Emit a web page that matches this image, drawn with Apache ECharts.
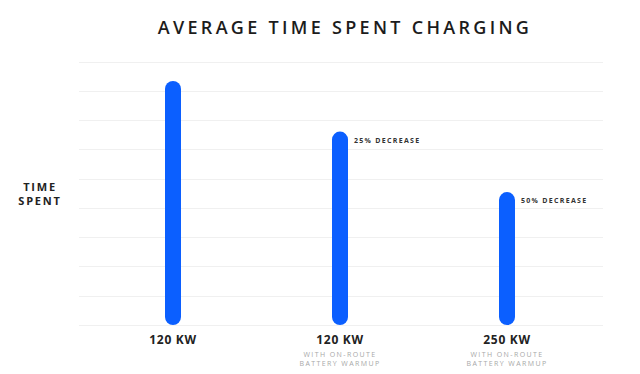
<!DOCTYPE html>
<html>
<head>
<meta charset="utf-8">
<script src="https://cdn.jsdelivr.net/npm/echarts@6/dist/echarts.min.js"></script>
<style>
html,body{margin:0;padding:0;background:#fff;}
#chart{width:640px;height:374px;}
</style>
</head>
<body>
<div id="chart"></div>
<script>
var titleText = 'AVERAGE TIME SPENT CHARGING';
var yAxisName = 'TIME\nSPENT';
var categories = ['120 KW', '120 KW', '250 KW'];
var subLabels = ['', 'WITH ON-ROUTE\nBATTERY WARMUP', 'WITH ON-ROUTE\nBATTERY WARMUP'];
var timeSpent = [8.35, 6.62, 4.55];
var annotations = ['', '25% DECREASE', '50% DECREASE'];
var yMin = 0, yMax = 9, yStep = 1;

var FONT = 'Open Sans';
var spacing = {
  'AVERAGE TIME SPENT CHARGING': 3.3,
  'TIME': 1.8, 'SPENT': 1.8,
  '120 KW': 0.7, '250 KW': 0.7,
  'WITH ON-ROUTE': 1.4, 'BATTERY WARMUP': 1.4,
  '25% DECREASE': 1.3, '50% DECREASE': 1.3
};

var chart = echarts.init(document.getElementById('chart'), null, {renderer: 'svg'});
chart.setOption({
  animation: false,
  backgroundColor: '#ffffff',
  title: {
    text: titleText, left: 340, top: 13, textAlign: 'center',
    textStyle: {fontFamily: FONT, fontSize: 18, fontWeight: 600, color: '#1c1c1c'}
  },
  grid: [
    {left: 79, right: 37, top: 62, bottom: 49},
    {left: 89.5, width: 501, top: 62, bottom: 49}
  ],
  xAxis: [
    {gridIndex: 0, type: 'category', data: categories, show: false},
    {
      gridIndex: 1, type: 'category', data: categories,
      axisLine: {show: false}, axisTick: {show: false},
      axisLabel: {
        margin: 4.5, interval: 0,
        formatter: function (v, i) {
          var s = '{a|' + v + '}';
          if (subLabels[i]) {
            s += '\n' + subLabels[i].split('\n').map(function (t) { return '{b|' + t + '}'; }).join('\n');
          }
          return s;
        },
        rich: {
          a: {fontFamily: FONT, fontSize: 12, fontWeight: 'bold', color: '#222', lineHeight: 20},
          b: {fontFamily: FONT, fontSize: 7, color: '#a8a8a8', lineHeight: 9.5}
        }
      }
    }
  ],
  yAxis: [
    {
      gridIndex: 0, type: 'value', min: yMin, max: yMax, interval: yStep,
      axisLine: {show: false}, axisTick: {show: false}, axisLabel: {show: false},
      splitLine: {show: true, lineStyle: {color: '#f0f0f0', width: 1}},
      name: yAxisName, nameLocation: 'middle', nameRotate: 0, nameGap: 39,
      nameTextStyle: {fontFamily: FONT, fontSize: 11, fontWeight: 'bold', color: '#222', lineHeight: 14, align: 'center'}
    },
    {
      gridIndex: 1, type: 'value', min: yMin, max: yMax, interval: yStep, show: false
    }
  ],
  series: [{
    type: 'bar', xAxisIndex: 1, yAxisIndex: 1,
    data: timeSpent, barWidth: 16, silent: true,
    itemStyle: {color: '#0b5fff', borderRadius: 8},
    label: {
      show: true, position: ['100%', 0], offset: [6, 8.5],
      align: 'left', verticalAlign: 'middle',
      formatter: function (p) { return annotations[p.dataIndex]; },
      fontFamily: FONT, fontSize: 7, fontWeight: 'bold', color: '#333'
    }
  }]
});

function applySpacing() {
  var texts = document.querySelectorAll('#chart text');
  for (var i = 0; i < texts.length; i++) {
    var t = texts[i].textContent.trim();
    if (spacing[t] != null) {
      texts[i].setAttribute('letter-spacing', spacing[t]);
      texts[i].style.letterSpacing = spacing[t] + 'px';
    }
  }
}
try { chart.getZr().flush(); } catch (e) {}
applySpacing();
chart.on('finished', applySpacing);
setTimeout(applySpacing, 50);
setTimeout(applySpacing, 300);
</script>
</body>
</html>
